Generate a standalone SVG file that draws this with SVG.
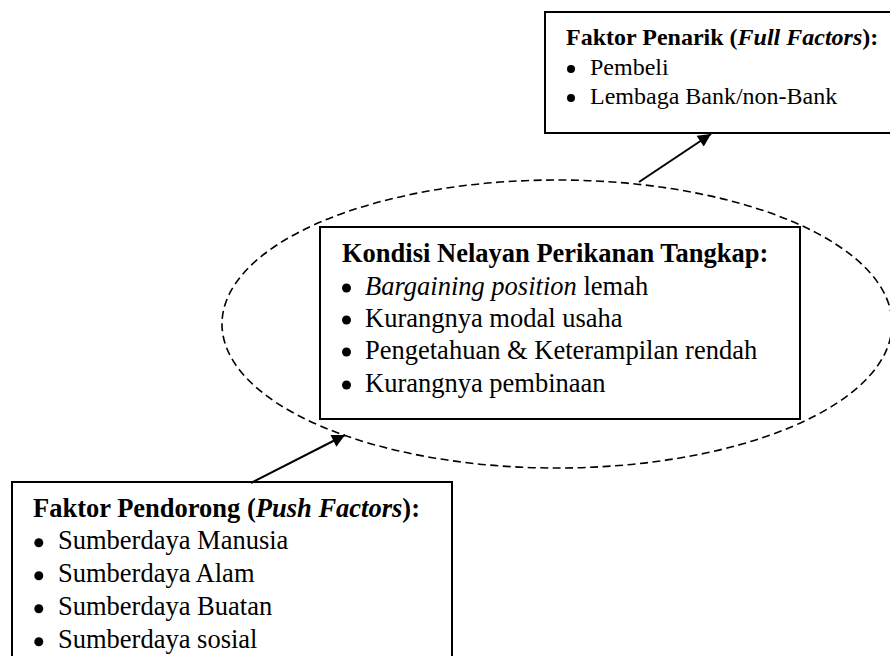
<svg xmlns="http://www.w3.org/2000/svg" width="890" height="656" viewBox="0 0 890 656">
<style>
.box{fill:#fff;stroke:#000;stroke-width:2}
.t{font-family:"Liberation Serif","Times New Roman",serif;fill:#000}
.b{font-weight:bold}
.i{font-style:italic}
.conn{stroke:#000;stroke-width:2;fill:none}
</style>
<defs>
<marker id="ah" viewBox="0 0 10 10" refX="10" refY="5" markerWidth="7.5" markerHeight="6.5" markerUnits="strokeWidth" orient="auto">
<path d="M0,0 L10,5 L0,10 z" fill="#000"/>
</marker>
<circle id="dot" r="4.5" fill="#000"/>
<circle id="dots" r="4" fill="#000"/>
</defs>
<rect width="890" height="656" fill="#fff"/>
<g id="kondisi">
<ellipse cx="557" cy="324" rx="335" ry="144" fill="none" stroke="#000" stroke-width="1.6" stroke-dasharray="8,4.5"/>
<rect class="box" x="320" y="227" width="480" height="192"/>
<text class="t b" x="342" y="262" font-size="26.5">Kondisi Nelayan Perikanan Tangkap:</text>
<use href="#dot" x="346.5" y="288"/>
<use href="#dot" x="346.5" y="320"/>
<use href="#dot" x="346.5" y="352"/>
<use href="#dot" x="346.5" y="385"/>
<g class="t" font-size="26.5">
<text x="365" y="295"><tspan class="i">Bargaining position</tspan> lemah</text>
<text x="365" y="327">Kurangnya modal usaha</text>
<text x="365" y="359">Pengetahuan &amp; Keterampilan rendah</text>
<text x="365" y="392">Kurangnya pembinaan</text>
</g>
</g>
<g id="penarik">
<rect class="box" x="545" y="12" width="360" height="121"/>
<text class="t b" x="566" y="45" font-size="24">Faktor Penarik (<tspan class="i">Full Factors</tspan>):</text>
<use href="#dots" x="571" y="69"/>
<use href="#dots" x="571" y="98"/>
<g class="t" font-size="24">
<text x="590" y="75">Pembeli</text>
<text x="590" y="104">Lembaga Bank/non-Bank</text>
</g>
</g>
<g id="pendorong">
<rect class="box" x="12" y="482" width="440" height="190"/>
<text class="t b" x="33" y="517" font-size="26.5">Faktor Pendorong (<tspan class="i">Push Factors</tspan>):</text>
<use href="#dot" x="38.8" y="542.7"/>
<use href="#dot" x="38.8" y="575.7"/>
<use href="#dot" x="38.8" y="608.7"/>
<use href="#dot" x="38.8" y="641.7"/>
<g class="t" font-size="26.5">
<text x="58" y="549">Sumberdaya Manusia</text>
<text x="58" y="582">Sumberdaya Alam</text>
<text x="58" y="615">Sumberdaya Buatan</text>
<text x="58" y="648">Sumberdaya sosial</text>
</g>
</g>
<g id="connectors">
<line class="conn" x1="639" y1="182" x2="711" y2="134" marker-end="url(#ah)"/>
<line class="conn" x1="251" y1="483" x2="345" y2="435" marker-end="url(#ah)"/>
</g>
</svg>
